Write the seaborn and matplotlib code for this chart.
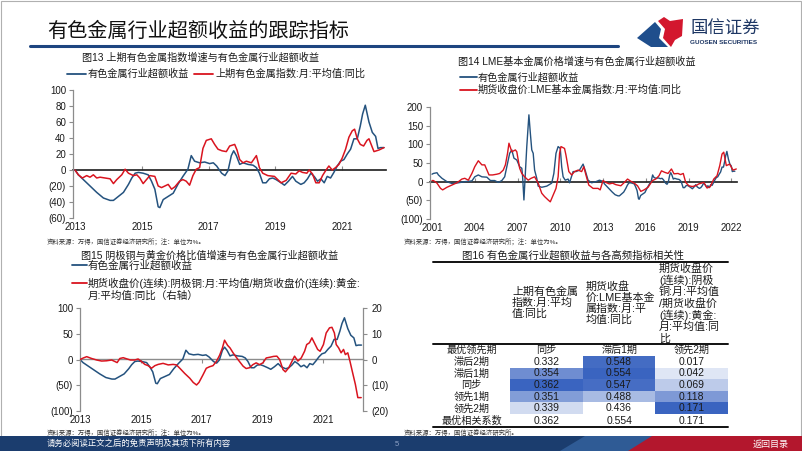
import numpy as np
import pandas as pd
import matplotlib
matplotlib.use("Agg")
import matplotlib.pyplot as plt
import seaborn as sns
from matplotlib.lines import Line2D
from matplotlib.patches import Rectangle, Polygon
from matplotlib.colors import LinearSegmentedColormap
from matplotlib.ticker import FuncFormatter

# ==========================================
# DATA
# ==========================================
# 有色金属行业超额收益 (2013-2022), used in 图13, 图14 and 图15
excess_year = [2013.00, 2013.10, 2013.25, 2013.45, 2013.65, 2013.85,
               2014.05, 2014.15, 2014.30, 2014.45, 2014.60, 2014.70, 2014.80, 2014.90,
               2015.04, 2015.19, 2015.29, 2015.39, 2015.49, 2015.54, 2015.64, 2015.79, 2015.94,
               2016.08, 2016.23, 2016.38, 2016.48, 2016.58, 2016.73, 2016.88,
               2017.03, 2017.14, 2017.24, 2017.39, 2017.49, 2017.58, 2017.68, 2017.75, 2017.83, 2017.93,
               2018.03, 2018.18, 2018.33, 2018.43, 2018.52, 2018.62, 2018.72, 2018.82, 2018.92,
               2019.02, 2019.17, 2019.27, 2019.39, 2019.51, 2019.61, 2019.76, 2019.86, 2019.96,
               2020.06, 2020.16, 2020.26, 2020.36, 2020.46, 2020.55, 2020.65, 2020.75, 2020.85, 2020.95,
               2021.05, 2021.15, 2021.25, 2021.35, 2021.45, 2021.54, 2021.61, 2021.69, 2021.80, 2021.90,
               2022.00, 2022.07, 2022.15, 2022.25]
excess_val = [0, -6, -12, -20, -28, -35,
              -38, -38, -33, -28, -18, -10, -4, -3,
              -4, -6, -14, -24, -46, -47, -37, -33, -29,
              -18, -8, 1, 18, 11, 9, 10,
              8, 9, 5, -4, -7, -1, 18, 24, 18, 7,
              9, 7, 6, 3, -4, -16, -16, -11, -10,
              -12, -16, -19, -14, -8, -14, -18, -16, -11,
              -4, -8, -14, -11, -16, -8, -10, -3, 5, 11,
              13, 20, 26, 39, 39, 55, 70, 81, 60, 47,
              42, 27, 28, 28]

# 上期有色金属指数:月:平均值:同比
shfe_year = [2013.00, 2013.10, 2013.22, 2013.35, 2013.45, 2013.55, 2013.65, 2013.75, 2013.90,
             2014.05, 2014.15, 2014.25, 2014.40, 2014.50, 2014.60, 2014.75, 2014.85, 2014.94,
             2015.04, 2015.14, 2015.24, 2015.39, 2015.49, 2015.59, 2015.69, 2015.79, 2015.89, 2015.99,
             2016.13, 2016.23, 2016.33, 2016.43, 2016.53, 2016.63, 2016.73, 2016.83, 2016.93,
             2017.08, 2017.18, 2017.28, 2017.40, 2017.53, 2017.63, 2017.78, 2017.85, 2017.93,
             2018.03, 2018.13, 2018.28, 2018.43, 2018.52, 2018.62, 2018.77, 2018.97,
             2019.17, 2019.32, 2019.47, 2019.61, 2019.71, 2019.81, 2019.94,
             2020.01, 2020.11, 2020.21, 2020.31, 2020.41, 2020.50, 2020.60, 2020.70, 2020.80, 2020.90,
             2021.00, 2021.10, 2021.20, 2021.30, 2021.37, 2021.45, 2021.54, 2021.64, 2021.74, 2021.80,
             2021.95, 2022.10, 2022.25]
shfe_val = [0, -6, -10, -7, -9, -6, -10, -9, -10,
            -11, -17, -12, -6, 1, -4, -7, -6, -10,
            -17, -12, -7, -8, -20, -22, -20, -18, -24, -21,
            -14, -12, -14, -19, -7, 1, 3, 27, 37,
            39, 32, 26, 24, 23, 30, 32, 25, 13,
            9, 11, 9, 18, 3, -4, -7, -8,
            -16, -13, -4, -5, -1, -3, -4,
            0, -5, -16, -16, -7, -1, 5, 0, 3, 7,
            15, 26, 41, 49, 51, 39, 32, 30, 37, 39,
            23, 25, 28]

# 有色金属行业超额收益, 2001-2012 part of 图14
excess_early_year = [2001.00, 2001.10, 2001.35, 2001.45, 2001.70, 2002.05, 2002.40, 2002.85, 2003.30,
                     2003.80, 2004.00, 2004.25, 2004.50, 2004.85, 2005.10, 2005.40, 2005.65, 2005.90,
                     2006.10, 2006.30, 2006.45, 2006.60, 2006.75, 2006.95, 2007.15, 2007.30, 2007.35,
                     2007.45, 2007.55, 2007.65, 2007.80, 2007.90, 2008.00, 2008.10, 2008.20, 2008.35,
                     2008.45, 2008.70, 2009.05, 2009.40, 2009.55, 2009.70, 2009.85, 2010.00, 2010.10,
                     2010.20, 2010.35, 2010.55, 2010.65, 2010.90, 2011.10, 2011.35, 2011.60, 2011.75,
                     2011.95, 2012.20, 2012.50, 2012.75, 2012.90]
excess_early_val = [20, 22, 24, 18, 9, 0, -5, -3, 0,
                    2, 13, 18, 13, 12, 3, 3, -2, 3,
                    13, 49, 76, 85, 63, 58, 40, 36, 18,
                    -49, 22, 94, 179, 130, 85, 76, 31, 9,
                    -12, -15, -12, -4, 22, 76, 94, 89, 40,
                    13, 4, 7, -3, 27, 27, 31, 47, 30,
                    4, -3, 0, 4, 2]

# 期货收盘价:LME基本金属指数:月:平均值:同比
lme_year = [2001.00, 2001.10, 2001.35, 2001.60, 2001.75, 2002.05, 2002.40, 2002.75, 2003.10, 2003.30,
            2003.55, 2003.80, 2004.00, 2004.25, 2004.50, 2004.70, 2005.00, 2005.25, 2005.55, 2005.75,
            2006.00, 2006.15, 2006.30, 2006.40, 2006.60, 2006.85, 2006.95, 2007.15, 2007.30, 2007.50,
            2007.75, 2007.95, 2008.20, 2008.45, 2008.70, 2008.90, 2009.15, 2009.30, 2009.50, 2009.70,
            2009.85, 2009.95, 2010.05, 2010.30, 2010.40, 2010.60, 2010.80, 2011.00, 2011.25, 2011.50,
            2011.65, 2011.80, 2012.00, 2012.30, 2012.65, 2012.80, 2013.00, 2013.20, 2013.44, 2013.67,
            2013.90, 2014.25, 2014.50, 2014.72, 2014.95, 2015.19, 2015.42, 2015.65, 2015.88, 2016.16,
            2016.47, 2016.70, 2016.93, 2017.10, 2017.33, 2017.56, 2017.80, 2017.98, 2018.26, 2018.44,
            2018.63, 2018.80, 2019.02, 2019.26, 2019.50, 2019.72, 2020.07, 2020.30, 2020.53, 2020.77,
            2021.00, 2021.19, 2021.35, 2021.47, 2021.65, 2021.88, 2022.12, 2022.35]
lme_val = [3, 3, -4, -18, -22, -15, -9, -3, 7, 9,
           4, 22, 40, 56, 45, 45, 18, 18, 20, 22,
           31, 45, 76, 103, 80, 85, 80, 36, 22, 13,
           4, 9, 13, -4, -31, -40, -49, -54, -36, -18,
           13, 76, 94, 89, 71, 27, 18, 27, 31, 27,
           40, 18, -9, -18, -18, -22, 3, -2, -6, -4,
           -8, -11, -2, 7, 1, -4, -11, -26, -22, -15,
           3, 7, 16, 29, 25, 22, 34, 21, 22, 19,
           22, -2, -11, -13, -11, -6, -2, -17, -13, 7,
           16, 43, 74, 79, 43, 47, 31, 34]

# 期货收盘价(连续):阴极铜/黄金 比值同比 (right axis of 图15)
cu_au_year = [2013.00, 2013.11, 2013.22, 2013.38, 2013.55, 2013.71, 2013.87, 2014.04, 2014.15, 2014.22,
              2014.31, 2014.42, 2014.55, 2014.66, 2014.80, 2014.91, 2015.02, 2015.13, 2015.24, 2015.35,
              2015.46, 2015.57, 2015.73, 2015.90, 2016.06, 2016.17, 2016.28, 2016.44, 2016.61, 2016.72,
              2016.83, 2016.91, 2017.04, 2017.15, 2017.26, 2017.37, 2017.48, 2017.59, 2017.68, 2017.75,
              2017.85, 2017.93, 2018.03, 2018.19, 2018.36, 2018.46, 2018.57, 2018.68, 2018.79, 2018.90,
              2019.01, 2019.12, 2019.25, 2019.36, 2019.47, 2019.56, 2019.67, 2019.75, 2019.86, 2019.97,
              2020.05, 2020.16, 2020.27, 2020.38, 2020.45, 2020.54, 2020.62, 2020.70, 2020.81, 2020.89,
              2021.00, 2021.09, 2021.20, 2021.28, 2021.36, 2021.42, 2021.50, 2021.58, 2021.66, 2021.72,
              2021.80, 2021.87, 2021.96, 2022.05, 2022.13, 2022.24]
cu_au_val = [0, 0.6, 1.1, 0.4, -0.2, -0.6, -0.5, -0.2, -0.8, -1.2,
             0.4, 0.7, 0.2, -0.2, -0.2, 0.2, -0.8, -1.9, -2.4, -3.4,
             -2.4, -1.9, -1.5, -2.1, -1.9, -2.1, -3.4, -5.4, -7.3, -8.9,
             -9.9, -8.9, -6.0, -3.4, -2.8, -2.4, -0.8, 1.7, 4.5, 7.5,
             5.5, 4.5, 2.6, 0.0, -2.6, -3.5, -3.2, -2.0, -1.3, -2.0,
             -1.3, 0.6, 0.9, 1.2, 1.3, 0.0, -3.9, -4.8, -3.2, -0.6,
             1.3, -0.6, 0.6, 3.2, 5.8, 6.5, 8.4, 6.5, 3.9, 3.2,
             5.8, 10.3, 12.3, 12.5, 10.3, 5.8, 4.5, 2.6, 3.9, 1.9,
             2.6, -0.6, -5.2, -9.7, -14.8, -14.8]

# 图16 correlation table
lag_labels = ['滞后2期', '滞后1期', '同步', '领先1期', '领先2期']
col_headers = ['上期有色金属\n指数:月:平均\n值:同比',
               '期货收盘\n价:LME基本金\n属指数:月:平\n均值:同比',
               '期货收盘价\n(连续):阴极\n铜:月:平均值\n/期货收盘价\n(连续):黄金:\n月:平均值:同\n比']
corr_shfe = [0.332, 0.354, 0.362, 0.351, 0.339]
corr_lme = [0.548, 0.554, 0.547, 0.488, 0.436]
corr_cu_au = [0.017, 0.042, 0.069, 0.118, 0.171]

SRC_NOTE = '资料来源：万得，国信证券经济研究所；注：单位为%。'

# ==========================================
# STYLE
# ==========================================
sns.set_theme(style="white")
plt.rcParams['font.family'] = ['Liberation Sans', 'Noto Sans CJK SC', 'DejaVu Sans']
plt.rcParams['axes.unicode_minus'] = False

BLUE = '#24527e'
RED = '#d9141f'
GRAY = '#8c8c8c'
TXT = '#1a1a1a'
W, H = 802, 451

fig = plt.figure(figsize=(W / 100, H / 100), dpi=100)
fig.patch.set_facecolor('white')


def box(x0, y0, x1, y1):
    return [x0 / W, 1 - y1 / H, (x1 - x0) / W, (y1 - y0) / H]


def ftext(x, y, s, **kw):
    kw.setdefault('va', 'center')
    kw.setdefault('color', TXT)
    fig.text(x / W, 1 - y / H, s, **kw)


def fline(x0, x1, y0, y1, **kw):
    fig.add_artist(Line2D([x0 / W, x1 / W], [1 - y0 / H, 1 - y1 / H], **kw))


def paren(v, pos):
    return f"({abs(v):.0f})" if v < 0 else f"{v:.0f}"


def style_chart(ax, xlim, xticks, ylim, yticks, zero_ticks):
    ax.set_xlim(xlim)
    ax.set_ylim(ylim)
    ax.set_yticks(yticks)
    ax.yaxis.set_major_formatter(FuncFormatter(paren))
    ax.set_xticks(xticks)
    ax.set_xticklabels([str(t) for t in xticks])
    ax.set_xlabel('')
    ax.set_ylabel('')
    for s in ['top', 'right', 'bottom']:
        ax.spines[s].set_visible(False)
    ax.spines['left'].set_color(GRAY)
    ax.spines['left'].set_linewidth(0.9)
    ax.tick_params(axis='y', left=True, length=3, width=0.8, color=GRAY,
                   labelsize=7, labelcolor=TXT, pad=2)
    ax.tick_params(axis='x', bottom=False, length=0, labelsize=7, labelcolor=TXT, pad=3)
    ax.patch.set_alpha(0)
    # zero line with year ticks
    zero_frac = (0 - ylim[0]) / (ylim[1] - ylim[0])
    sec = ax.secondary_xaxis(zero_frac)
    sec.set_xticks(zero_ticks)
    sec.tick_params(axis='x', direction='in', length=3, width=0.8, color=GRAY,
                    labeltop=False, labelbottom=False)
    sec.spines['top'].set_color(GRAY)
    sec.spines['top'].set_linewidth(1.0)
    return sec


# ==========================================
# HEADER / FOOTER
# ==========================================
fig.add_artist(Rectangle((0.001, 0.001), 0.998, 0.996, transform=fig.transFigure,
                         fill=False, ec='#b0b0b0', lw=0.8))
ftext(47, 31, '有色金属行业超额收益的跟踪指标', fontsize=14.5, color='#111111',
      family=['Noto Sans CJK SC'])
fline(30, 618, 46, 46, color='#1d4580', lw=2.2)
fig.add_artist(Polygon([(x / W, 1 - y / H) for x, y in
                        [(637, 38), (655, 22), (661, 29), (659, 38), (668, 47), (651, 47)]],
                       closed=True, transform=fig.transFigure, fc='#1f4e8c', ec='none'))
fig.add_artist(Polygon([(x / W, 1 - y / H) for x, y in
                        [(658, 21), (664, 17), (670, 21), (683, 19), (682, 36), (675, 40),
                         (671, 47), (663, 38), (665, 29)]],
                       closed=True, transform=fig.transFigure, fc='#d3172e', ec='none'))
ftext(690, 29, '国信证券', fontsize=12.5, color='#1e3764', family=['Noto Sans CJK SC'])
ftext(690, 43, 'GUOSEN SECURITIES', fontsize=4.6, color='#1e3764', fontweight='bold')

fig.add_artist(Rectangle((0, 0), 1, 15 / H, transform=fig.transFigure, fc='#1b3d6e', ec='none'))
fig.add_artist(Polygon([(x / W, 1 - y / H) for x, y in
                        [(560, 451), (585, 436), (660, 436), (635, 451)]],
                       closed=True, transform=fig.transFigure, fc='#2f5b95', ec='none'))
fig.add_artist(Polygon([(x / W, 1 - y / H) for x, y in
                        [(628, 451), (652, 436), (802, 436), (802, 451)]],
                       closed=True, transform=fig.transFigure, fc='#b3172d', ec='none'))
ftext(47, 444, '请务必阅读正文之后的免责声明及其项下所有内容', fontsize=6, color='white')
ftext(395, 445, '5', fontsize=5.5, color='#8fa3c7')
ftext(771, 444, '返回目录', fontsize=6.5, color='white', ha='center')

# ==========================================
# 图13
# ==========================================
ax13 = fig.add_axes(box(73, 90, 386, 218))
sns.lineplot(x=excess_year, y=excess_val, ax=ax13, color=BLUE, lw=1.1)
sns.lineplot(x=shfe_year, y=shfe_val, ax=ax13, color=RED, lw=1.1)
style_chart(ax13, (2012.94, 2022.31), [2013, 2015, 2017, 2019, 2021],
            (-60, 100), list(range(-60, 101, 20)), [2015, 2017, 2019, 2021])
ftext(200, 58, '图13 上期有色金属指数增速与有色金属行业超额收益', fontsize=7.3, ha='center')
fline(67, 86, 74, 74, color=BLUE, lw=1.3)
ftext(88, 74, '有色金属行业超额收益', fontsize=7.3)
fline(194, 213, 74, 74, color=RED, lw=1.3)
ftext(215, 74, '上期有色金属指数:月:平均值:同比', fontsize=7.3)
ftext(47, 242, SRC_NOTE, fontsize=4.6, color='#333333')

# ==========================================
# 图14
# ==========================================
ax14 = fig.add_axes(box(430, 107, 737, 219))
sns.lineplot(x=excess_early_year + excess_year, y=excess_early_val + excess_val,
             ax=ax14, color=BLUE, lw=1.0)
sns.lineplot(x=lme_year, y=lme_val, ax=ax14, color=RED, lw=1.0)
style_chart(ax14, (2000.86, 2022.4), list(range(2001, 2023, 3)),
            (-100, 200), list(range(-100, 201, 50)), list(range(2004, 2023, 3)))
ftext(458, 62, '图14 LME基本金属价格增速与有色金属行业超额收益', fontsize=7.3)
fline(460, 477, 77, 77, color=BLUE, lw=1.3)
ftext(478, 77, '有色金属行业超额收益', fontsize=7.3)
fline(460, 477, 90, 90, color=RED, lw=1.3)
ftext(478, 90, '期货收盘价:LME基本金属指数:月:平均值:同比', fontsize=7.3)
ftext(404, 242, SRC_NOTE, fontsize=4.6, color='#333333')

# ==========================================
# 图15
# ==========================================
ax15 = fig.add_axes(box(80, 308, 363, 411))
sns.lineplot(x=excess_year, y=excess_val, ax=ax15, color=BLUE, lw=1.1)
style_chart(ax15, (2013.0, 2022.3), [2013, 2015, 2017, 2019, 2021],
            (-100, 100), [-100, -50, 0, 50, 100], [2015, 2017, 2019, 2021])
ax15r = ax15.twinx()
sns.lineplot(x=cu_au_year, y=cu_au_val, ax=ax15r, color=RED, lw=1.1)
ax15r.set_ylim(-20, 20)
ax15r.set_yticks([-20, -10, 0, 10, 20])
ax15r.yaxis.set_major_formatter(FuncFormatter(paren))
ax15r.set_ylabel('')
for s in ['top', 'left', 'bottom']:
    ax15r.spines[s].set_visible(False)
ax15r.spines['right'].set_visible(True)
ax15r.spines['right'].set_color(GRAY)
ax15r.spines['right'].set_linewidth(0.9)
ax15r.tick_params(axis='y', right=True, length=3, width=0.8, color=GRAY,
                  labelsize=7, labelcolor=TXT, pad=3)
ftext(210, 255, '图15 阴极铜与黄金价格比值增速与有色金属行业超额收益', fontsize=7.3, ha='center')
fline(72, 87, 265, 265, color=BLUE, lw=1.3)
ftext(88, 265, '有色金属行业超额收益', fontsize=7.6)
fline(72, 87, 283, 283, color=RED, lw=1.3)
ftext(88, 283, '期货收盘价(连续):阴极铜:月:平均值/期货收盘价(连续):黄金:', fontsize=7.6)
ftext(88, 296, '月:平均值:同比（右轴）', fontsize=7.6)
ftext(47, 433, SRC_NOTE, fontsize=4.6, color='#333333')

# ==========================================
# 图16 correlation table
# ==========================================
corr = pd.DataFrame({'shfe': corr_shfe, 'lme': corr_lme, 'cu_au': corr_cu_au}, index=lag_labels)
norm = (corr - corr.min()) / (corr.max() - corr.min())
annot = np.array([[f"{v:.3f}" for v in row] for row in corr.values])
cmap = LinearSegmentedColormap.from_list('tab_blue', ['#ffffff', '#3a64c0'])

TX0, TX1 = 433, 728
COL_X = [510, 583, 656, 728]
ROW_TOP, ROW_H = 356, 11.6

hax = fig.add_axes(box(COL_X[0], ROW_TOP, COL_X[-1], ROW_TOP + ROW_H * len(lag_labels)))
sns.heatmap(norm, cmap=cmap, vmin=0, vmax=1, annot=annot, fmt='', cbar=False, ax=hax,
            xticklabels=False, yticklabels=False, linewidths=0,
            annot_kws={'fontsize': 7.5, 'color': '#1a1a1a'})
hax.set_xlabel('')
hax.set_ylabel('')

ftext(573, 255, '图16 有色金属行业超额收益与各高频指标相关性', fontsize=7.5, ha='center')
fline(TX0, TX1, 262, 262, color='#111111', lw=1.4)
fline(TX0, TX1, 344, 344, color='#111111', lw=1.4)
fline(TX0, TX1, 427, 427, color='#111111', lw=1.4)

header_left = [512, 586, 659]
for j, head in enumerate(col_headers):
    ftext(header_left[j], 303, head, fontsize=7.9, linespacing=1.1)

label_cx = (TX0 + COL_X[0]) / 2
col_cx = [(COL_X[j] + COL_X[j + 1]) / 2 for j in range(3)]
ftext(label_cx, 350, '最优领先期', fontsize=7.3, ha='center')
for j, lag in enumerate(corr.idxmax()):
    ftext(col_cx[j], 350, lag, fontsize=7.3, ha='center')
for i, lab in enumerate(lag_labels):
    ftext(label_cx, ROW_TOP + ROW_H * (i + 0.5), lab, fontsize=7.3, ha='center')
ftext(label_cx, 420.5, '最优相关系数', fontsize=7.3, ha='center')
for j, best in enumerate(corr.max()):
    ftext(col_cx[j], 420.5, f"{best:.3f}", fontsize=7.5, ha='center')
ftext(404, 433, '资料来源：万得，国信证券经济研究所。', fontsize=4.6, color='#333333')

fig.savefig('out.png', dpi=100)
